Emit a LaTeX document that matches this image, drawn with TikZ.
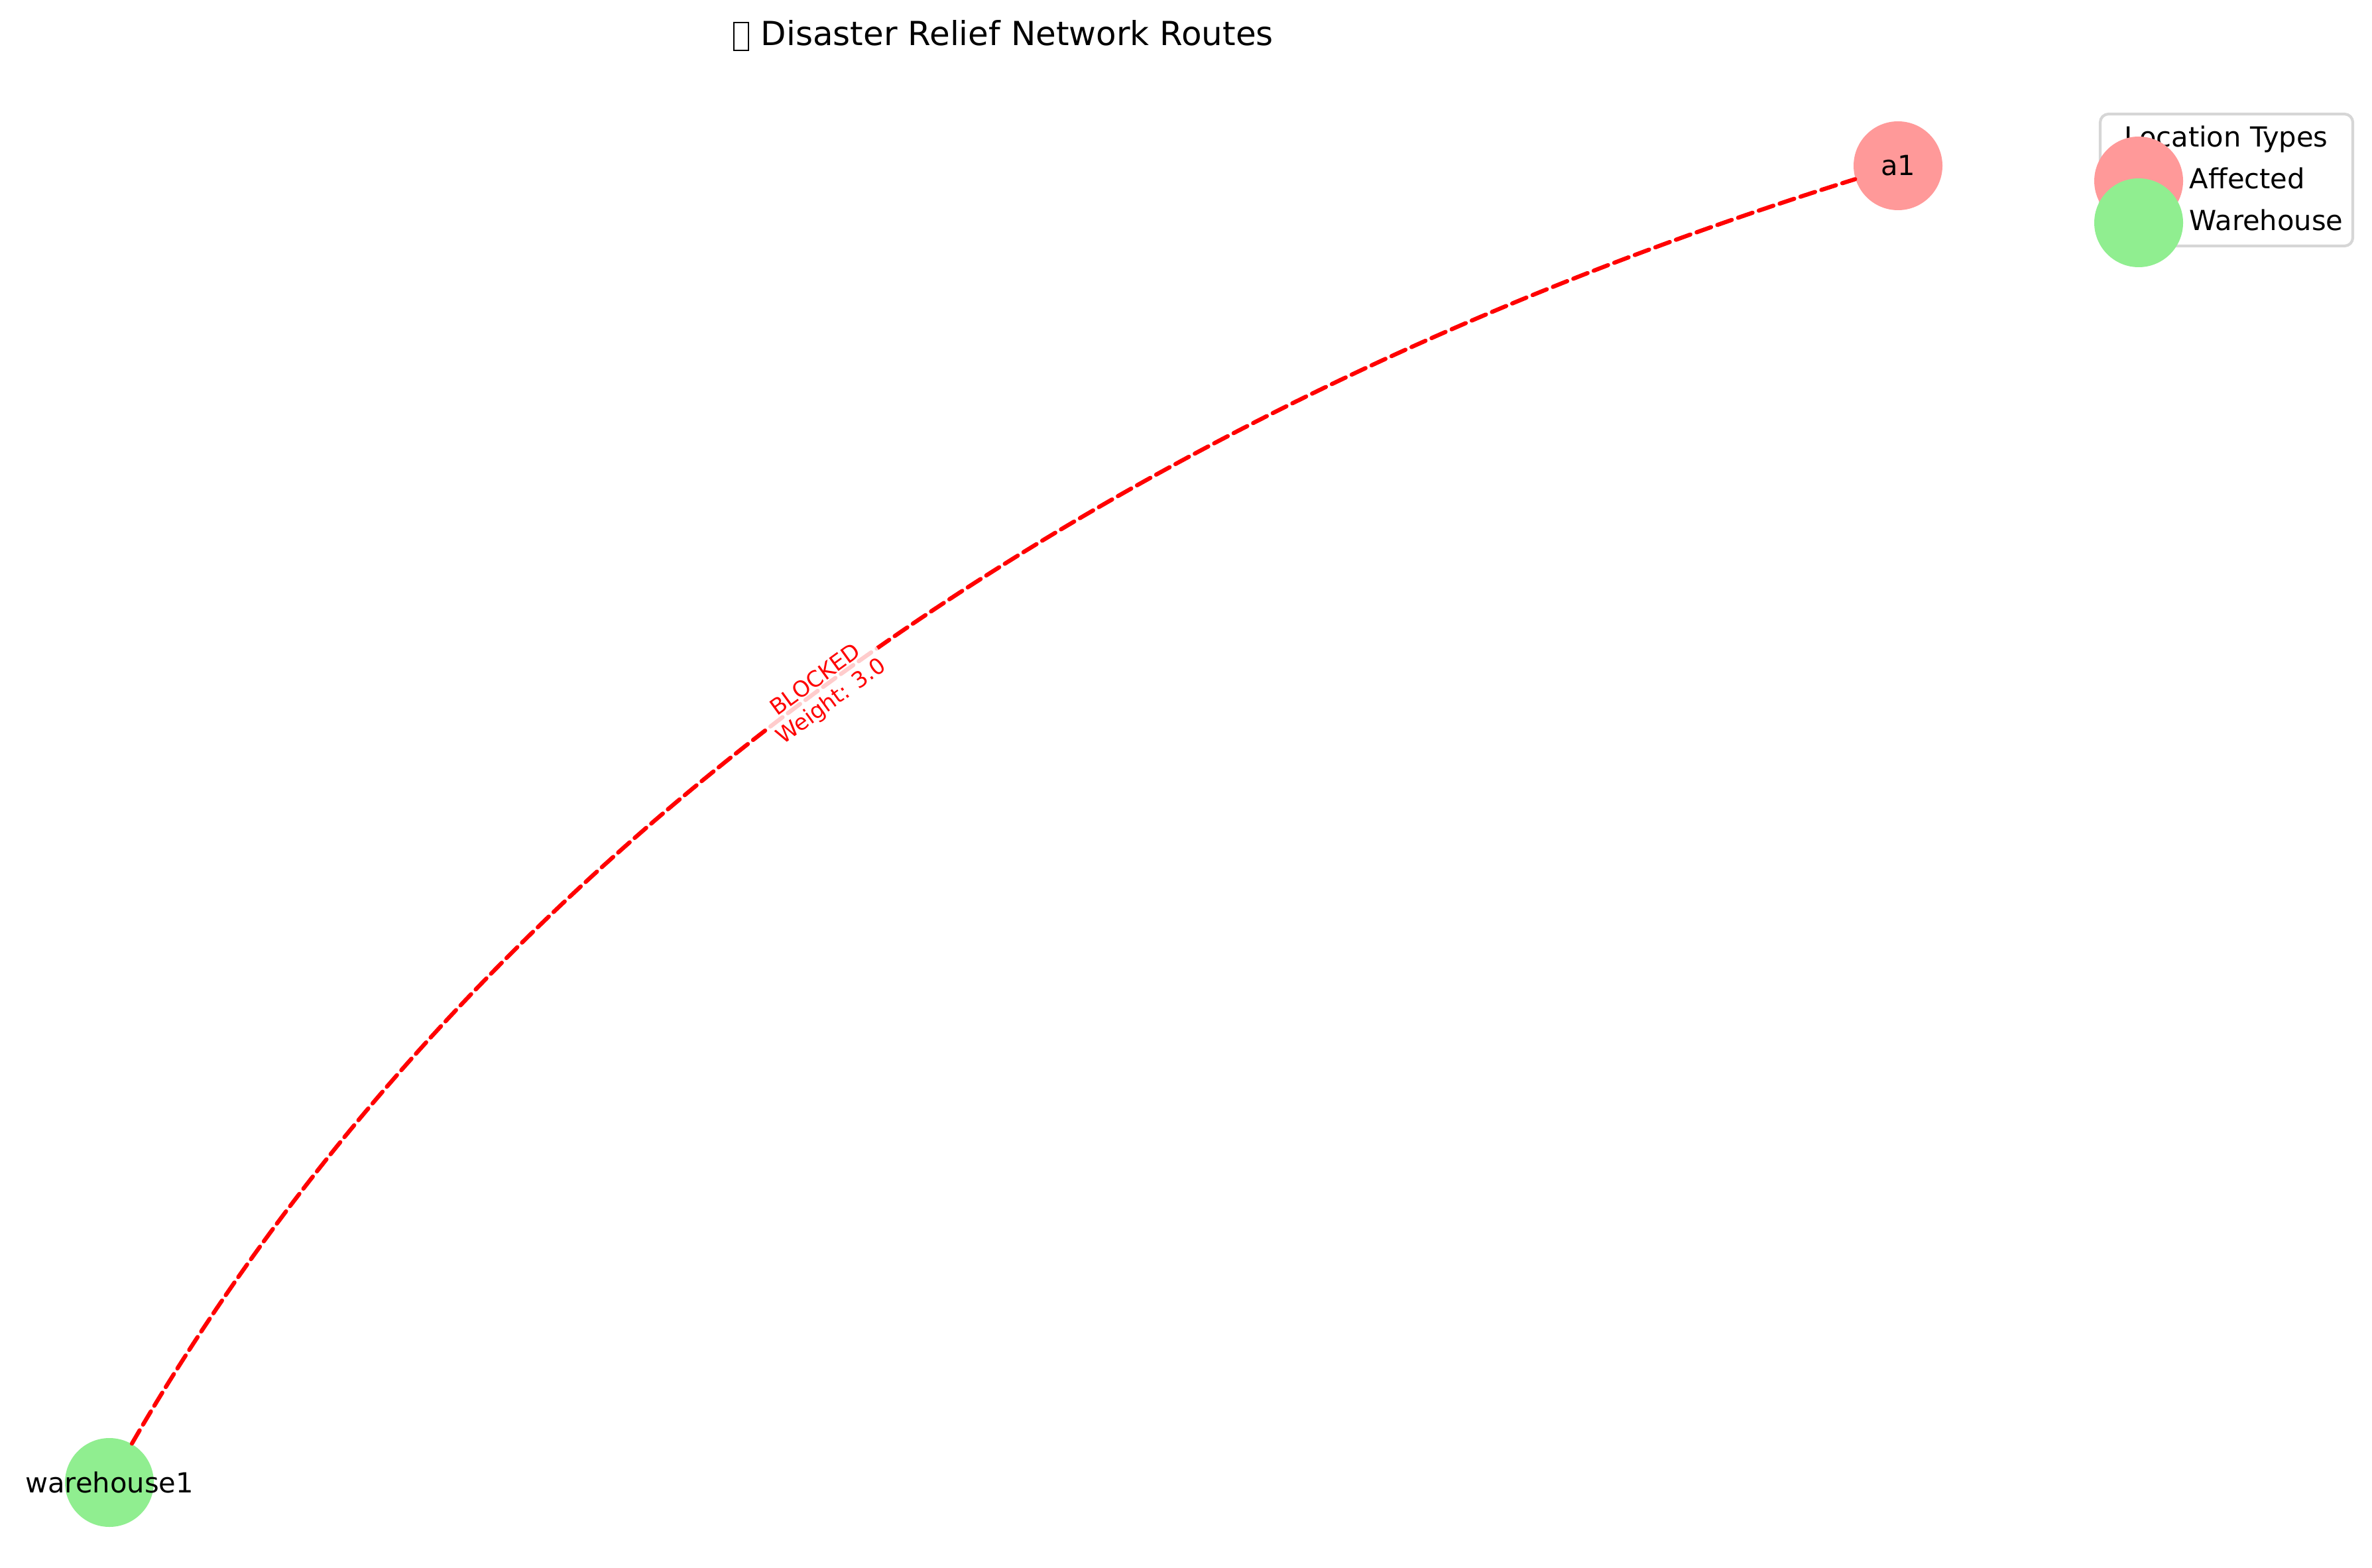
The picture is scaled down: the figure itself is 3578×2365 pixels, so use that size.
\documentclass[tikz,border=0pt]{standalone}
\usepackage{fontspec}
\setmainfont{DejaVu Sans}
\definecolor{affected}{HTML}{FF9999}
\definecolor{warehousec}{HTML}{90EE90}
\definecolor{legendframe}{RGB}{214,214,214}
\begin{document}
\begin{tikzpicture}[x=0.24pt,y=-0.24pt,
  place/.style={circle,inner sep=0pt,minimum size=32.16pt,draw=none},
  nodelabel/.style={font=\fontsize{10}{12}\selectfont,inner sep=0pt},
  legtext/.style={font=\fontsize{10}{12}\selectfont,inner sep=0pt},
  route/.style={draw=red,line width=1.5pt,dash pattern=on 5.55pt off 2.4pt,line cap=round},
  routelabel/.style={font=\fontsize{8}{9.6}\selectfont,text=red,align=center,
    fill=white,fill opacity=0.8,text opacity=1,rounded corners=2pt,inner sep=1.5pt}]
\useasboundingbox (0,0) rectangle (3578,2365);
% title
\draw[line width=0.5pt] (1107,34) rectangle (1129,76);
\node[font=\fontsize{12}{14.4}\selectfont,anchor=base west,inner sep=0pt] (title) at (1147,69) {Disaster Relief Network Routes};
% nodes
\node[place,fill=warehousec] (wh) at (165,2236) {};
\node[place,fill=affected] (a1) at (2863,250) {};
% edge
\draw[route] (wh) .. controls (703,1307) and (1602,645) .. (a1);
\node[routelabel,rotate=36] (lbl) at (1243,1043) {BLOCKED\\Weight: 3.0};
% node labels
\node[nodelabel] (whlbl) at (wh) {warehouse1};
\node[nodelabel] (a1lbl) at (a1) {a1};
% legend
\draw[legendframe,line width=1pt,fill=white,rounded corners=3pt] (3168,172) rectangle (3549,371);
\node[legtext,anchor=base] (legtitle) at (3358,222) {Location Types};
\node[place,fill=affected] (legA) at (3226,273) {};
\node[place,fill=warehousec] (legW) at (3226,336) {};
\node[legtext,anchor=base west] (legAtxt) at (3302,285) {Affected};
\node[legtext,anchor=base west] (legWtxt) at (3302,348) {Warehouse};
\end{tikzpicture}
\end{document}
